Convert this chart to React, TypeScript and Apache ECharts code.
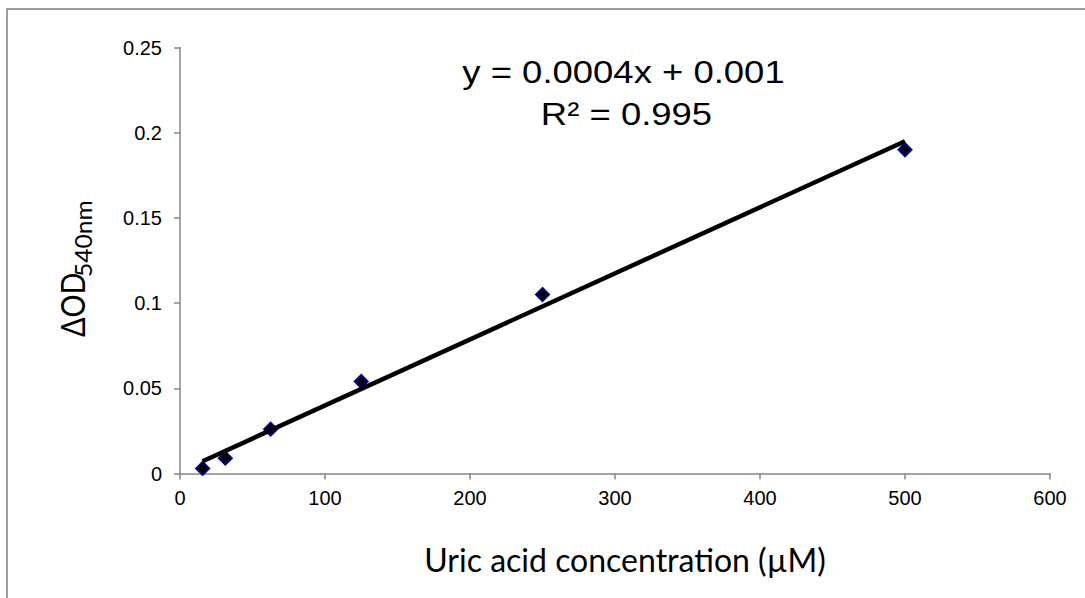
import React, { useEffect, useRef } from "react";
import * as echarts from "echarts";

// ---- data ----
const concentrations = [15.625, 31.25, 62.5, 125, 250, 500];
const deltaOD = [0.003, 0.009, 0.026, 0.054, 0.105, 0.19];
// linear trendline end points (as drawn)
const trendX = [15.625, 500];
const trendY = [0.0072, 0.195];

const xAxisMin = 0;
const xAxisMax = 600;
const xAxisStep = 100;
const yAxisMin = 0;
const yAxisMax = 0.25;
const yAxisStep = 0.05;

const equationLine = "y = 0.0004x + 0.001";
const r2Line = "R² = 0.995";
const xTitle = "Uric acid concentration (µM)";
const yTitleMain = "ΔOD";
const yTitleSub = "540nm";

const ARIAL = "'Liberation Sans', Arial, Helvetica, sans-serif";
const CALIBRI = "Lato, 'Open Sans', sans-serif";

export default function App() {
  const ref = useRef<HTMLDivElement | null>(null);

  useEffect(() => {
    if (!ref.current) return;
    const chart = echarts.init(ref.current, undefined, { renderer: "svg" });

    const scatterData = concentrations.map((x, i) => [x, deltaOD[i]]);
    const trendData = trendX.map((x, i) => [x, trendY[i]]);

    chart.setOption({
      animation: false,
      backgroundColor: "#ffffff",
      grid: { left: 180, right: 35, top: 47.5, bottom: 124.5, containLabel: false },
      xAxis: {
        type: "value",
        min: xAxisMin,
        max: xAxisMax,
        interval: xAxisStep,
        splitLine: { show: false },
        axisLine: { show: true, onZero: false, lineStyle: { color: "#868686", width: 1.5 } },
        axisTick: { show: true, length: 6, lineStyle: { color: "#868686", width: 1.5 } },
        axisLabel: { color: "#000", fontFamily: ARIAL, fontSize: 20, margin: 14 },
      },
      yAxis: {
        type: "value",
        min: yAxisMin,
        max: yAxisMax,
        interval: yAxisStep,
        splitLine: { show: false },
        axisLine: { show: true, onZero: false, lineStyle: { color: "#868686", width: 1.5 } },
        axisTick: { show: true, length: 6, lineStyle: { color: "#868686", width: 1.5 } },
        axisLabel: {
          color: "#000",
          fontFamily: ARIAL,
          fontSize: 20,
          margin: 18,
          formatter: (v: number) => String(parseFloat(v.toFixed(3))),
        },
      },
      series: [
        {
          type: "scatter",
          data: scatterData,
          symbol: "diamond",
          symbolSize: 13,
          itemStyle: { color: "#000000", borderColor: "#00008b", borderWidth: 2, opacity: 1 },
          z: 2,
        },
        {
          type: "line",
          data: trendData,
          symbol: "none",
          lineStyle: { color: "#000000", width: 4.5 },
          z: 3,
        },
      ],
      graphic: [
        {
          type: "rect",
          shape: { x: 7, y: 9, width: 1200, height: 700 },
          style: { fill: "none", stroke: "#7f7f7f", lineWidth: 1.5 },
          silent: true,
        },
        {
          type: "text",
          x: 623.5,
          y: 72,
          scaleX: 1.14,
          style: {
            text: equationLine,
            fontFamily: ARIAL,
            fontSize: 32,
            fill: "#000",
            align: "center",
            verticalAlign: "middle",
          },
        },
        {
          type: "text",
          x: 626.5,
          y: 114,
          scaleX: 1.14,
          style: {
            text: r2Line,
            fontFamily: ARIAL,
            fontSize: 32,
            fill: "#000",
            align: "center",
            verticalAlign: "middle",
          },
        },
        {
          type: "text",
          x: 625,
          y: 559.6,
          style: {
            text: xTitle,
            fontFamily: CALIBRI,
            fontSize: 32,
            fill: "#000",
            align: "center",
            verticalAlign: "middle",
          },
        },
        {
          type: "text",
          x: 72.6,
          y: 337,
          rotation: Math.PI / 2,
          scaleX: 0.9,
          style: {
            text: yTitleMain,
            fontFamily: CALIBRI,
            fontSize: 32,
            fill: "#000",
            align: "left",
            verticalAlign: "middle",
          },
        },
        {
          type: "text",
          x: 83.1,
          y: 277,
          rotation: Math.PI / 2,
          scaleX: 1.07,
          style: {
            text: yTitleSub,
            fontFamily: CALIBRI,
            fontSize: 23,
            fill: "#000",
            align: "left",
            verticalAlign: "middle",
          },
        },
      ],
    });

    return () => chart.dispose();
  }, []);

  return (
    <div
      ref={ref}
      style={{ position: "fixed", left: 0, top: 0, width: 1085, height: 598, background: "#fff" }}
    />
  );
}
